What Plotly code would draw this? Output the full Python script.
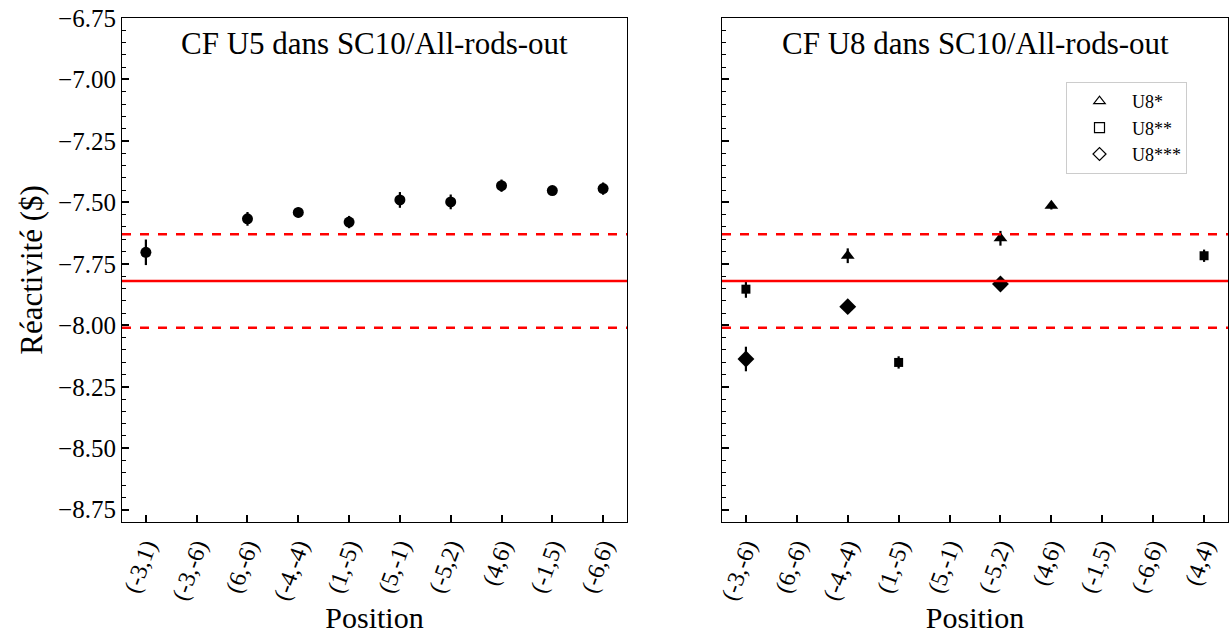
import plotly.graph_objects as go

# ---- data ----
pos_u5 = ["(-3,1)", "(-3,-6)", "(6,-6)", "(-4,-4)", "(1,-5)", "(5,-1)", "(-5,2)", "(4,6)", "(-1,5)", "(-6,6)"]
u5_val = [-7.703, None, -7.567, -7.541, -7.580, -7.490, -7.498, -7.432, -7.452, -7.444]
u5_err = [0.052, None, 0.028, 0.020, 0.025, 0.032, 0.030, 0.025, 0.010, 0.025]

pos_u8 = ["(-3,-6)", "(6,-6)", "(-4,-4)", "(1,-5)", "(5,-1)", "(-5,2)", "(4,6)", "(-1,5)", "(-6,6)", "(4,4)"]
u8a_pos = ["(-4,-4)", "(-5,2)", "(4,6)"]
u8a_val = [-7.717, -7.646, -7.514]
u8a_err = [0.030, 0.030, 0.015]
u8b_pos = ["(-3,-6)", "(1,-5)", "(4,4)"]
u8b_val = [-7.853, -8.151, -7.717]
u8b_err = [0.035, 0.025, 0.025]
u8c_pos = ["(-3,-6)", "(-4,-4)", "(-5,2)"]
u8c_val = [-8.137, -7.924, -7.832]
u8c_err = [0.050, 0.015, 0.015]

ref_mean = -7.82
ref_sigma = 0.19

titles = ["CF U5 dans SC10/All-rods-out", "CF U8 dans SC10/All-rods-out"]
legend_names = ["U8*", "U8**", "U8***"]

FONT = "Liberation Serif"
W, H = 1231, 636

fig = go.Figure()

def eb(err):
    return dict(type="data", array=err, visible=True, thickness=2.2, width=0, color="black")

fig.add_trace(go.Scatter(x=pos_u5, y=u5_val, error_y=eb(u5_err), mode="markers",
                         marker=dict(symbol="circle", size=11, color="black"),
                         showlegend=False, xaxis="x", yaxis="y"))

series = [(u8a_pos, u8a_val, u8a_err, "triangle-up", 12),
          (u8b_pos, u8b_val, u8b_err, "square", 9),
          (u8c_pos, u8c_val, u8c_err, "diamond", 13)]
for (px, py, pe, sym, sz), name in zip(series, legend_names):
    fig.add_trace(go.Scatter(x=px, y=py, error_y=eb(pe), mode="markers",
                             marker=dict(symbol=sym, size=sz, color="black"),
                             showlegend=False, xaxis="x2", yaxis="y2"))
    fig.add_trace(go.Scatter(x=[None], y=[None], mode="markers", name=name,
                             marker=dict(symbol=sym + "-open", size=10, color="black",
                                         line=dict(width=1.2, color="black")),
                             showlegend=True, xaxis="x2", yaxis="y2"))

# reference lines
for xr in ["x domain", "x2 domain"]:
    yr = "y" if xr.startswith("x ") else "y2"
    fig.add_shape(type="line", xref=xr, yref=yr, x0=0, x1=1, y0=ref_mean, y1=ref_mean,
                  line=dict(color="red", width=2.5))
    for s in (-1, 1):
        v = ref_mean + s * ref_sigma
        fig.add_shape(type="line", xref=xr, yref=yr, x0=0, x1=1, y0=v, y1=v,
                      line=dict(color="red", width=2.5, dash="dash"))

yrange = [-8.80, -6.75]
ydom = [1 - 522 / H, 1 - 18 / H]

xcommon = dict(type="category", range=[-0.47, 9.47], showline=True, linecolor="black", linewidth=1.2,
               mirror=True, ticks="inside", ticklen=7, tickwidth=1.5, tickcolor="black",
               tickangle=-70, tickfont=dict(family=FONT, size=24, color="black"),
               showgrid=False, zeroline=False,
               title=dict(text="Position", font=dict(family=FONT, size=30, color="black"), standoff=4))
ycommon = dict(range=yrange, domain=ydom, showline=True, linecolor="black", linewidth=1.2,
               mirror=True, ticks="inside", ticklen=7, tickwidth=1.5, tickcolor="black",
               tick0=-6.75, dtick=0.25, tickformat=".2f",
               minor=dict(ticks="inside", ticklen=4, tickwidth=1, tickcolor="black", dtick=0.05),
               showgrid=False, zeroline=False)

fig.update_layout(
    width=W, height=H,
    margin=dict(l=0, r=0, t=0, b=0, autoexpand=False),
    paper_bgcolor="white", plot_bgcolor="white",
    font=dict(family=FONT, color="black"),
    xaxis=dict(xcommon, domain=[122 / W, 627 / W], anchor="y",
               categoryorder="array", categoryarray=pos_u5),
    yaxis=dict(ycommon, anchor="x", tickfont=dict(family=FONT, size=25, color="black"),
               title=dict(text="Réactivité ($)", font=dict(family=FONT, size=31, color="black"), standoff=6)),
    xaxis2=dict(xcommon, domain=[722 / W, 1228 / W], anchor="y2",
                categoryorder="array", categoryarray=pos_u8),
    yaxis2=dict(ycommon, anchor="x2", matches="y", showticklabels=False),
    legend=dict(x=1066 / W, y=1 - 82 / H, xanchor="left", yanchor="top",
                bgcolor="white", bordercolor="#cccccc", borderwidth=1,
                font=dict(family=FONT, size=18, color="black"), itemwidth=55),
    annotations=[
        dict(text=titles[0], xref="x domain", yref="y domain", x=0.5, y=0.949, xanchor="center",
             yanchor="middle", showarrow=False, font=dict(family=FONT, size=31, color="black")),
        dict(text=titles[1], xref="x2 domain", yref="y2 domain", x=0.5, y=0.949, xanchor="center",
             yanchor="middle", showarrow=False, font=dict(family=FONT, size=31, color="black")),
    ],
)

fig.write_html("out.html", config={"displayModeBar": False},
               post_script="document.body.style.margin='0';")
